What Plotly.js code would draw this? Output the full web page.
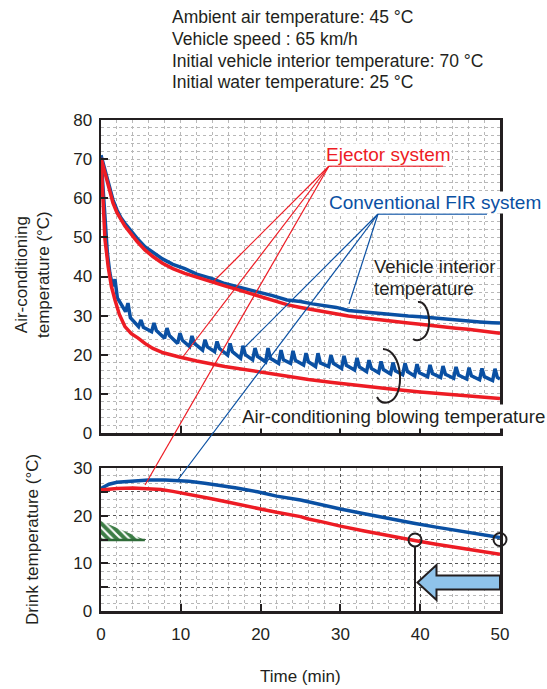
<!DOCTYPE html>
<html><head><meta charset="utf-8">
<script src="https://cdn.plot.ly/plotly-3.0.1.min.js"></script>
<style>html,body{margin:0;padding:0;background:#fff;}</style>
</head><body><div id="chart" style="width:547px;height:689px;"></div>
<script>
// ---------- DATA ----------
// Vehicle interior temperature (top panel)
const timeInterior = [0,0.5,1,1.5,2,2.5,3,3.5,4.5,5.5,6.5,7.7,9,10.5,12,14,15.5,17,18.5,20,21.5,23.3,25,26.5,28,29.5,31,32.5,34,35.5,37,38.5,40,41.5,43,44.5,46,47.5,49,50];
const ejectorInterior = [70.3,66.5,62.5,58.8,56.3,54.4,52.9,51.6,49.0,46.8,45.1,43.4,42.0,40.8,39.8,38.4,37.6,36.7,35.8,35.0,34.1,32.8,32.1,31.5,30.9,30.4,29.9,29.5,29.1,28.8,28.4,28.1,27.8,27.4,27.1,26.8,26.5,26.1,25.8,25.5];
const conventionalInterior = [71.0,67.2,63.3,59.6,57.0,55.0,53.6,52.3,49.8,47.6,46.1,44.5,43.1,42.0,40.6,39.4,38.2,37.4,36.6,36.0,35.1,34.0,33.6,33.0,32.5,32.1,31.3,31.0,30.6,30.4,30.1,29.9,29.7,29.4,29.1,28.9,28.7,28.4,28.2,28.1];

// Air-conditioning blowing temperature (top panel)
const timeBlowEjector = [0,0.2,0.5,0.9,1.3,1.75,2.3,3.0,3.8,4.7,5.5,6.5,7.8,9.7,12,15.5,18,20,23.3,26,29,32.5,36,40,44,47,50];
const ejectorBlow = [70,60,49.4,42.5,37.5,34,30.3,27.2,25.4,24.2,22.9,21.6,20.5,19.5,18.4,17.0,16.2,15.6,14.4,13.7,12.9,12.0,11.3,10.5,9.8,9.3,8.8];

const timeBlowConv = [0,0.25,0.5,0.8,1.1,1.45,1.75,2.05,
  3.08,3.38,3.68, 4.71,5.01,5.31, 6.34,6.64,6.94, 7.97,8.27,8.57, 9.6,9.9,10.2,
  11.1,11.4,11.7, 12.73,13.03,13.33, 14.24,14.54,14.84, 15.87,16.17,16.47, 17.49,17.79,18.09,
  19.0,19.3,19.6, 20.63,20.93,21.23, 22.26,22.56,22.86, 23.76,24.06,24.36, 25.39,25.69,25.99,
  26.89,27.19,27.49, 28.52,28.82,29.12, 30.15,30.45,30.75, 31.78,32.08,32.38, 33.28,33.58,33.88,
  34.79,35.09,35.39, 36.29,36.59,36.89, 37.8,38.1,38.4, 39.3,39.6,39.9, 40.93,41.23,41.53,
  42.56,42.86,43.16, 44.19,44.49,44.79, 45.82,46.12,46.42, 47.44,47.74,48.04, 49.07,49.37,49.67, 50];
const convBlow = [70.5,62,53,46,41,37.5,39.3,34.5,
  31.0,33.2,29.5, 27.2,28.9,27.0, 25.9,28.1,26.2, 24.2,26.8,24.9, 22.9,25.5,23.7,
  22.1,24.8,22.9, 21.2,23.8,22.0, 20.8,23.4,21.6, 19.9,22.9,20.8, 19.1,22.3,20.0,
  18.7,21.7,19.6, 18.2,21.7,19.1, 17.8,21.2,18.7, 17.8,21.0,18.6, 17.4,20.4,18.2,
  17.0,20.4,17.9, 17.0,19.9,17.8, 16.5,19.7,17.3, 16.1,19.2,16.9, 15.7,18.6,16.5,
  15.4,18.3,16.2, 15.1,18.0,15.9, 14.9,17.8,15.7, 14.6,17.6,15.4, 14.4,17.4,15.2,
  14.2,17.1,15.0, 14.0,16.9,14.8, 13.8,16.7,14.6, 13.6,16.5,14.4, 13.4,16.4,14.2, 13.8];

// Drink temperature (bottom panel)
const timeDrinkEj = [0,1,2,4,6,7.5,9,10,12,13.7,16,19.5,22,25,26,28,30,33,36,39.3,42,45,48,50];
const ejectorDrink = [25.4,25.6,25.7,25.8,25.7,25.5,25.1,24.8,24.2,23.6,22.8,21.5,20.7,19.8,19.3,18.6,17.8,16.8,15.8,14.8,14.0,13.2,12.5,11.9];
const timeDrinkConv = [0,0.5,1,2,4,6,8,9.5,11,13,15.4,17,19.6,22,25,26.2,28,30,33,36,39.2,42,45,48,50];
const convDrink = [25.7,26.1,26.6,27.0,27.3,27.5,27.5,27.4,27.2,26.8,26.3,25.8,25.0,24.1,23.3,22.8,22.1,21.4,20.4,19.4,18.4,17.6,16.8,16.0,15.4];

// Target drink temperature zone (green hatched triangle)
const zoneT = [0, 0, 5.5, 0];
const zoneV = [18.9, 14.9, 14.9, 18.9];
// Marked points (circles)
const markT = [39.35, 50.0];
const markV = [14.9, 15.0];

const yTopTicks = [0,10,20,30,40,50,60,70,80];
const yBotTicks = [0,5,10,15,20,25,30];
const yBotText = ['0','','10','','20','','30'];
const xTicks = [0,10,20,30,40,50];

// ---------- LAYOUT HELPERS ----------
const W=547,H=689,ML=101,MR=47,MT=120,MB=78;
const PW=W-ML-MR, PH=H-MT-MB;
const px = x => (x-ML)/PW;
const py = y => (H-MB-y)/PH;
const DARK='#231f20', RED='#ed1c24', BLUE='#0a50a3';
const FONT='Liberation Sans, Arial, sans-serif';

function txt(text, x, y, o={}) {
  return Object.assign({xref:'paper', yref:'paper', x:px(x), y:py(y), text:text,
    showarrow:false, xanchor:'left', yanchor:'middle',
    font:{family:FONT, size:17.5, color:DARK}}, o);
}
function seg(x0,y0,x1,y1,color,w){
  return {type:'line', xref:'paper', yref:'paper', x0:px(x0), y0:py(y0), x1:px(x1), y1:py(y1),
    line:{color:color, width:w}};
}
function pathPx(cmds){
  return cmds.map(c=>{
    let s=c[0];
    for(let i=1;i<c.length;i+=2){ s+=' '+px(c[i]).toFixed(5)+','+py(c[i+1]).toFixed(5); }
    return s;
  }).join(' ');
}

// ---------- TRACES ----------
const traces = [
  {x:timeInterior, y:conventionalInterior, xaxis:'x2', yaxis:'y2', mode:'lines', line:{color:BLUE,width:3.5}},
  {x:timeBlowConv, y:convBlow, xaxis:'x2', yaxis:'y2', mode:'lines', line:{color:BLUE,width:3.5}},
  {x:timeInterior, y:ejectorInterior, xaxis:'x2', yaxis:'y2', mode:'lines', line:{color:RED,width:3.5}},
  {x:timeBlowEjector, y:ejectorBlow, xaxis:'x2', yaxis:'y2', mode:'lines', line:{color:RED,width:3.5}},
  {x:zoneT, y:zoneV, xaxis:'x', yaxis:'y', mode:'none', fill:'toself', fillcolor:'#3d7d46',
   fillpattern:{shape:'\\', bgcolor:'#3d7d46', fgcolor:'#ffffff', size:6, solidity:0.35}},
  {x:[zoneT[1],zoneT[2]], y:[zoneV[1],zoneV[2]], xaxis:'x', yaxis:'y', mode:'lines', line:{color:'#2f6b38',width:2.5}},
  {x:timeDrinkConv, y:convDrink, xaxis:'x', yaxis:'y', mode:'lines', line:{color:BLUE,width:3.5}},
  {x:timeDrinkEj, y:ejectorDrink, xaxis:'x', yaxis:'y', mode:'lines', line:{color:RED,width:3.5}},
  {x:markT, y:markV, xaxis:'x', yaxis:'y', mode:'markers', cliponaxis:false,
   marker:{symbol:'circle-open', size:13, color:DARK, line:{width:2, color:DARK}}}
];

const gridMinor = {showgrid:true, gridcolor:'#b8b8b8', griddash:'dot', gridwidth:1};
const axBase = {showline:true, mirror:true, linewidth:2.5, linecolor:DARK, zeroline:false,
  ticks:'inside', ticklen:7, tickwidth:2, tickcolor:DARK, fixedrange:true,
  tickfont:{family:FONT, size:17, color:DARK}};

const layout = {
  width:W, height:H, margin:{l:ML, r:MR, t:MT, b:MB}, showlegend:false,
  paper_bgcolor:'#fff', plot_bgcolor:'#fff',
  xaxis: Object.assign({}, axBase, {anchor:'y', domain:[0,1], range:[0,50], tickvals:xTicks,
    ticklabelstandoff:6,
    showgrid:true, gridcolor:'#555', griddash:'dot', gridwidth:1,
    minor: Object.assign({dtick:2}, gridMinor)}),
  yaxis: Object.assign({}, axBase, {anchor:'x', domain:[0,(H-MB-468)/PH], range:[0,30],
    tickvals:yBotTicks, ticktext:yBotText, ticklabelstandoff:3,
    showgrid:true, gridcolor:'#555', griddash:'dot', gridwidth:1,
    minor: Object.assign({dtick:5/3, tick0:0}, gridMinor)}),
  xaxis2: Object.assign({}, axBase, {anchor:'y2', matches:'x', range:[0,50], tickvals:xTicks, showticklabels:false,
    showgrid:true, gridcolor:'#b8b8b8', griddash:'dot', gridwidth:1,
    minor: Object.assign({dtick:2}, gridMinor)}),
  yaxis2: Object.assign({}, axBase, {anchor:'x2', domain:[(H-MB-433)/PH,1], range:[0,80], tickvals:yTopTicks,
    ticklabelstandoff:3,
    showgrid:true, gridcolor:'#b8b8b8', griddash:'dot', gridwidth:1,
    minor: Object.assign({dtick:2}, gridMinor)}),
  shapes: [
    seg(329,166,443,166,RED,1.3),
    seg(329,166,212,283,RED,1.2),
    seg(329,166,182,358,RED,1.2),
    seg(329,166,145,485,RED,1.2),
    seg(378,214,487,214,BLUE,1.3),
    seg(378,214,349,304,BLUE,1.2),
    seg(378,214,245,347,BLUE,1.2),
    seg(378,214,177,481,BLUE,1.2),
    {type:'path', xref:'paper', yref:'paper', line:{color:DARK,width:2},
     path: pathPx([['M',418,302],['C',429,300,434,330,423,338],['C',419,341,416,341,413,339]])},
    {type:'path', xref:'paper', yref:'paper', line:{color:DARK,width:2},
     path: pathPx([['M',383,349],['C',403,350,406,396,389,402],['C',383,404,379,401,377,397]])},
    seg(415,546,415,611,DARK,2),
    {type:'path', xref:'paper', yref:'paper', fillcolor:'#8fc3ea', line:{color:DARK,width:2},
     path: pathPx([['M',417.5,582.5],['L',436.5,565],['L',436.5,575.5],['L',500,575.5],['L',500,589.5],['L',436.5,589.5],['L',436.5,600],['Z']])}
  ],
  annotations: [
    txt('Ambient air temperature: 45 °C',170,17),
    txt('Vehicle speed : 65 km/h',170,39),
    txt('Initial vehicle interior temperature: 70 °C',170,61),
    txt('Initial water temperature: 25 °C',170,82),
    txt('Ejector system',325,154,{font:{family:FONT,size:19,color:RED}, bgcolor:'#fff', borderpad:0}),
    txt('Conventional FIR system',328,202,{font:{family:FONT,size:19,color:BLUE}, bgcolor:'#fff', borderpad:0}),
    txt('Vehicle interior',372,266,{font:{family:FONT,size:18.5,color:DARK}}),
    txt('temperature',372,288,{font:{family:FONT,size:18.5,color:DARK}}),
    txt('Air-conditioning blowing temperature',240,416,{font:{family:FONT,size:18.7,color:DARK}, bgcolor:'#fff', borderpad:1}),
    txt('Air-conditioning<br>temperature (°C)',32,275,{xanchor:'center', textangle:-90, font:{family:FONT,size:17,color:DARK}}),
    txt('Drink temperature (°C)',32,540,{xanchor:'center', textangle:-90, font:{family:FONT,size:17,color:DARK}}),
    txt('Time (min)',300,676,{xanchor:'center', font:{family:FONT,size:17,color:DARK}})
  ]
};

Plotly.newPlot('chart', traces, layout, {displayModeBar:false, staticPlot:true});
</script>
</body></html>
